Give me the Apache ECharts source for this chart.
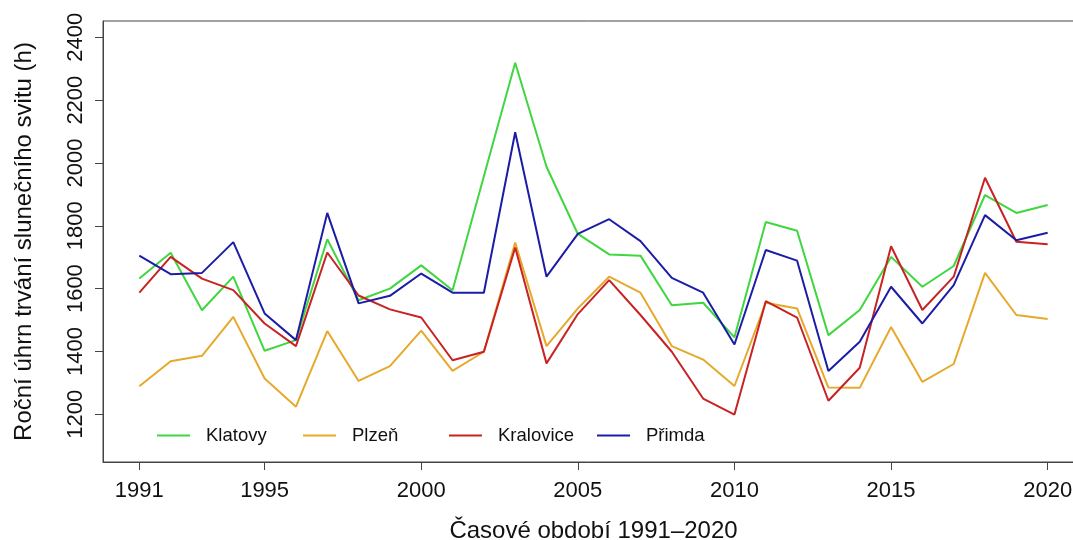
<!DOCTYPE html>
<html>
<head>
<meta charset="utf-8">
<script src="https://cdn.jsdelivr.net/npm/echarts@6/dist/echarts.min.js"></script>
<style>
  html, body { margin: 0; padding: 0; background: #fff; }
  #chart { width: 1073px; height: 540px; }
</style>
</head>
<body>
<div id="chart"></div>
<script>
// roky a rocni uhrny slunecniho svitu (h)
const years = [1991, 1992, 1993, 1994, 1995, 1996, 1997, 1998, 1999, 2000,
  2001, 2002, 2003, 2004, 2005, 2006, 2007, 2008, 2009, 2010,
  2011, 2012, 2013, 2014, 2015, 2016, 2017, 2018, 2019, 2020];
const klatovy = [1632, 1714, 1531, 1638, 1402, 1436, 1757, 1563, 1600, 1674,
  1595, 1958, 2319, 1988, 1774, 1709, 1705, 1547, 1555, 1445,
  1812, 1784, 1452, 1532, 1701, 1606, 1672, 1898, 1841, 1866];
const plzen = [1289, 1369, 1386, 1510, 1314, 1224, 1465, 1306, 1353, 1466,
  1338, 1399, 1747, 1417, 1537, 1638, 1587, 1417, 1374, 1290,
  1555, 1537, 1285, 1284, 1478, 1303, 1360, 1650, 1516, 1503];
const kralovice = [1587, 1701, 1632, 1595, 1489, 1417, 1715, 1578, 1534, 1508,
  1372, 1399, 1731, 1362, 1519, 1627, 1516, 1399, 1250, 1199,
  1560, 1508, 1243, 1348, 1735, 1532, 1638, 1953, 1749, 1741];
const primda = [1705, 1646, 1650, 1748, 1521, 1436, 1841, 1553, 1577, 1648,
  1587, 1587, 2098, 1638, 1774, 1821, 1751, 1634, 1587, 1422,
  1723, 1689, 1338, 1431, 1606, 1489, 1611, 1834, 1754, 1778];
const xTicks = [1991, 1995, 2000, 2005, 2010, 2015, 2020];
const yTicks = [1200, 1400, 1600, 1800, 2000, 2200, 2400];

const names = ["Klatovy", "Plzeň", "Kralovice", "Přimda"];
const colors = ["#3fd63f", "#e6a92c", "#c82222", "#1c1ca6"];
const values = [klatovy, plzen, kralovice, primda];
const legendLeft = [157, 303, 449, 597];

const font = "Liberation Sans, Arial, sans-serif";

let myChart = echarts.init(document.getElementById("chart"));
const option = {
  animation: false,
  grid: {
    left: 103,
    top: 21,
    width: 981,
    height: 441,
    containLabel: false,
    outerBoundsMode: "none",
    show: true,
    borderColor: "#444",
    borderWidth: 1,
  },
  legend: names.map((n, i) => ({
    data: [n],
    left: legendLeft[i],
    top: 426,
    padding: 0,
    icon: "rect",
    itemWidth: 33,
    itemHeight: 2,
    textStyle: {
      fontFamily: font,
      fontSize: 18.5,
      color: "#111",
      padding: [4, 0, 0, 11],
    },
  })),
  xAxis: {
    type: "value",
    min: 1989.84,
    max: 2021.16,
    name: "Časové období 1991–2020",
    nameLocation: "middle",
    nameGap: 57,
    nameTextStyle: { fontFamily: font, fontSize: 24, color: "#111" },
    axisLine: { show: true, lineStyle: { color: "#444", width: 1 } },
    axisTick: { show: true, customValues: xTicks, length: 8, lineStyle: { color: "#444" } },
    axisLabel: {
      customValues: xTicks,
      formatter: (v) => String(v),
      fontFamily: font,
      fontSize: 22,
      color: "#111",
      margin: 18,
    },
    splitLine: { show: false },
  },
  yAxis: {
    type: "value",
    min: 1048,
    max: 2452,
    name: "Roční úhrn trvání slunečního svitu (h)",
    nameLocation: "middle",
    nameRotate: 90,
    nameGap: 67,
    nameTextStyle: { fontFamily: font, fontSize: 24, color: "#111" },
    axisLine: { show: true, lineStyle: { color: "#444", width: 1 } },
    axisTick: { show: true, customValues: yTicks, length: 8, lineStyle: { color: "#444" } },
    axisLabel: {
      customValues: yTicks,
      formatter: (v) => String(v),
      rotate: 90,
      fontFamily: font,
      fontSize: 22,
      color: "#111",
      margin: 16,
    },
    splitLine: { show: false },
  },
  series: names.map((n, i) => ({
    name: n,
    type: "line",
    symbol: "none",
    color: colors[i],
    lineStyle: { width: 2, color: colors[i] },
    data: years.map((y, j) => [y, values[i][j]]),
  })),
};
myChart.setOption(option);
</script>
</body>
</html>
